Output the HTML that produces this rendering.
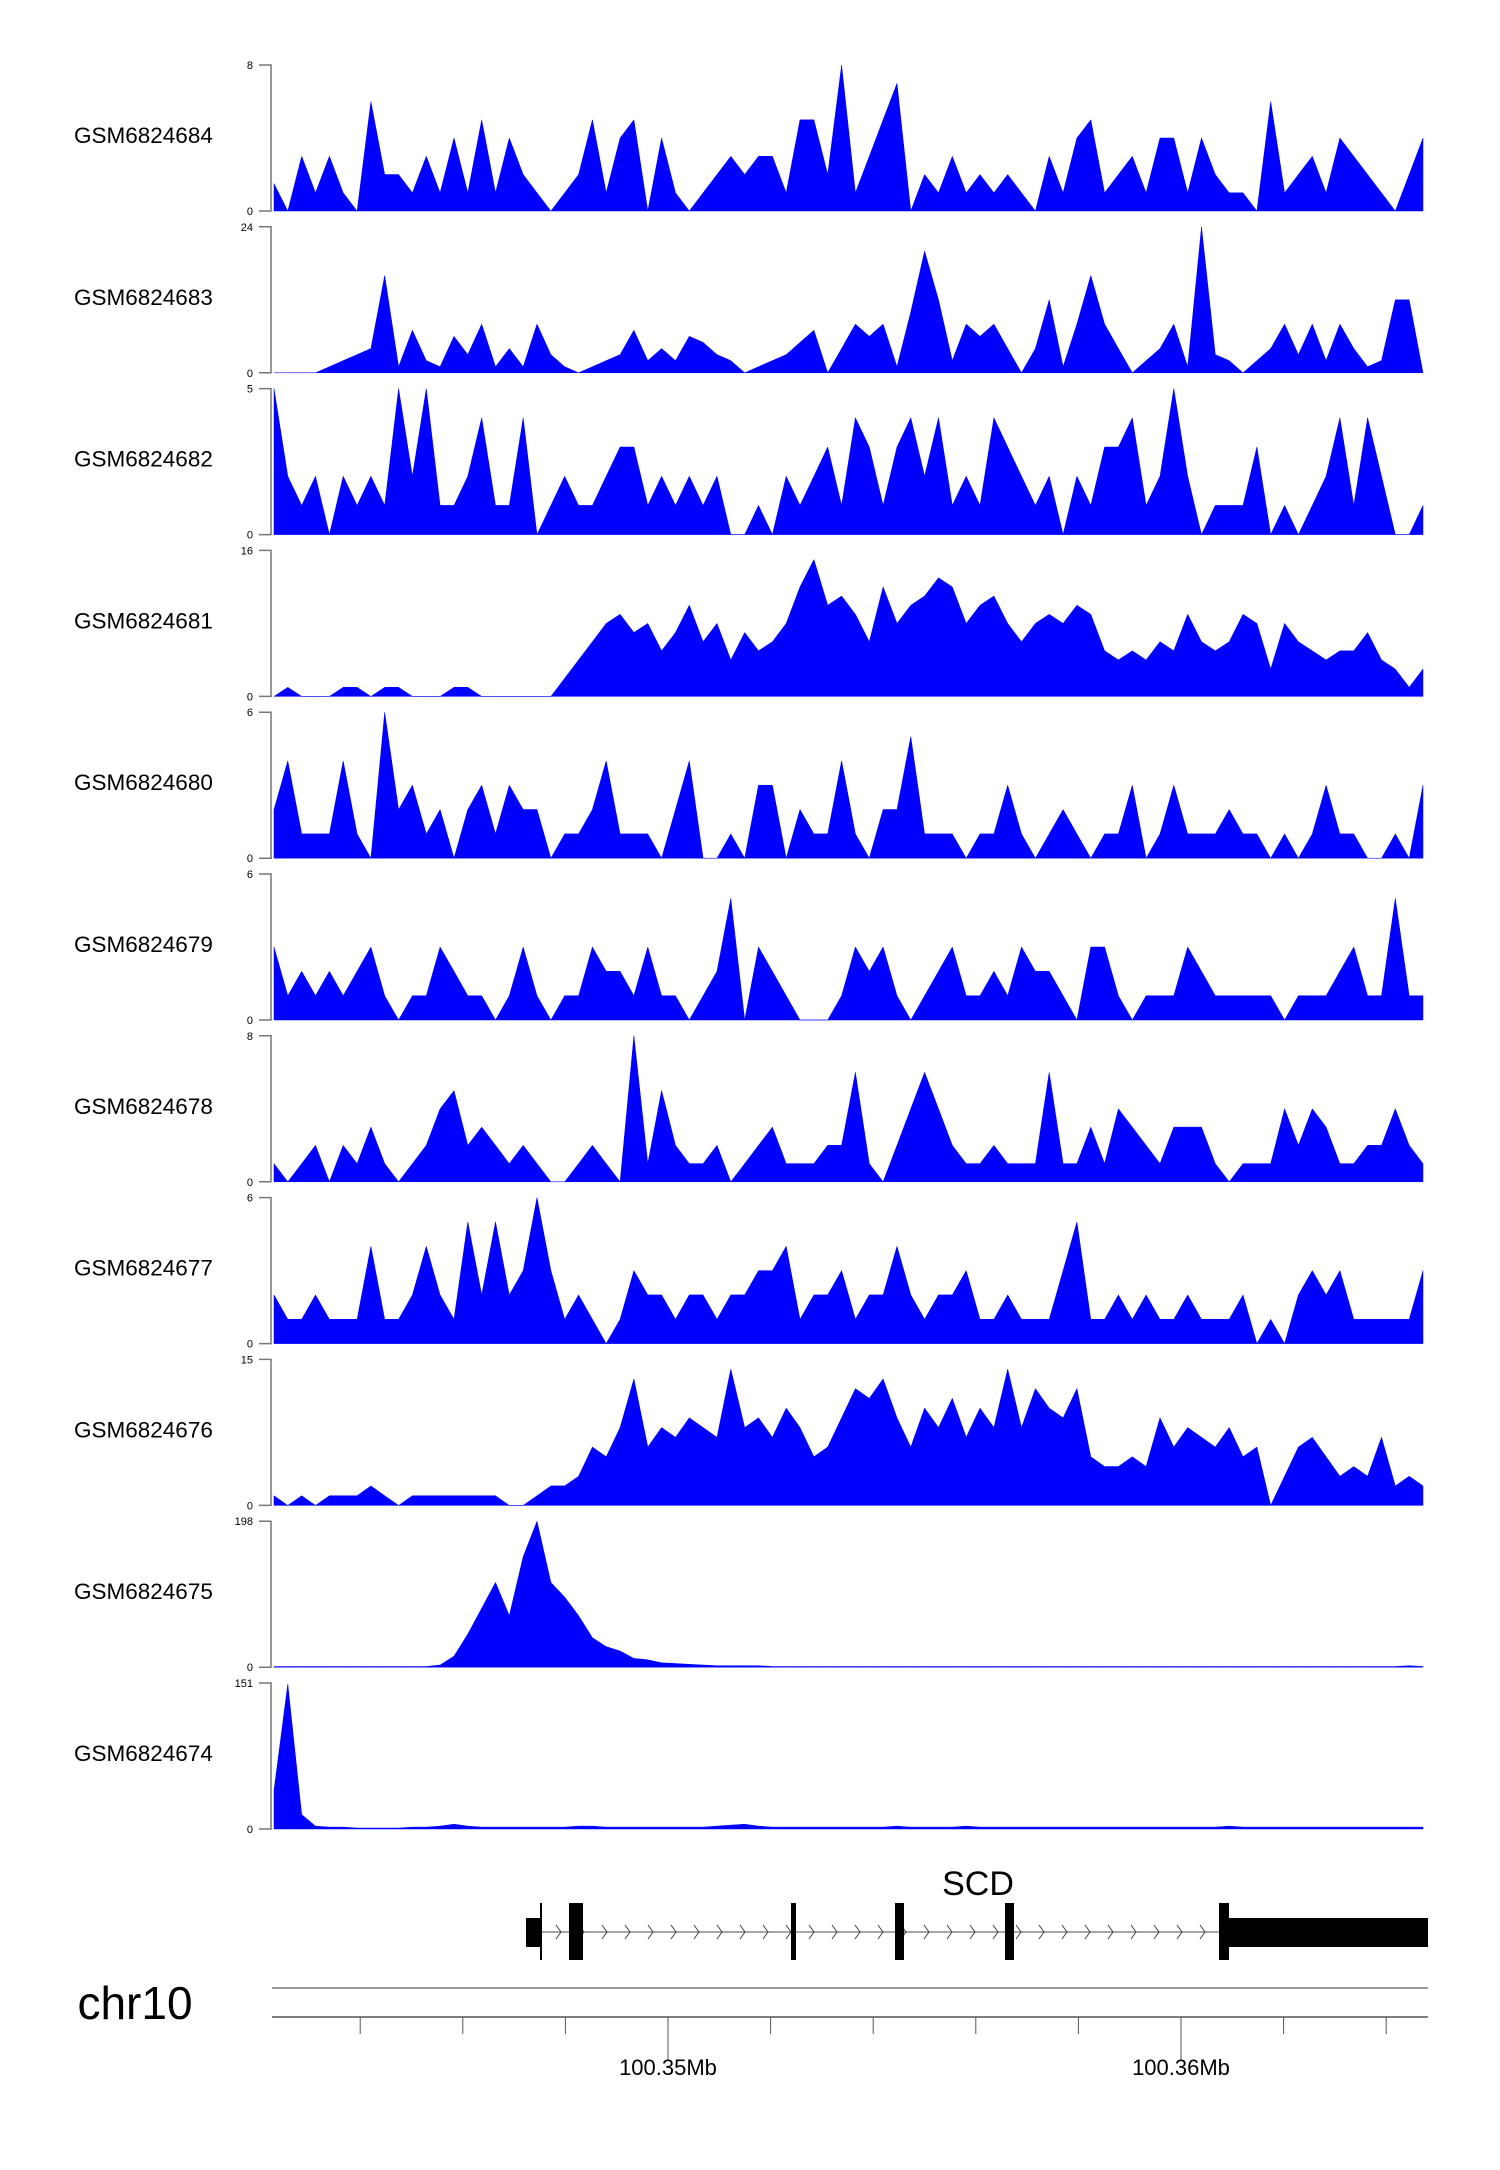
<!DOCTYPE html>
<html><head><meta charset="utf-8">
<style>
html,body{margin:0;padding:0;background:#fff;}
svg{display:block;font-family:"Liberation Sans",Arial,sans-serif;}
</style></head>
<body>
<svg id="chart" width="1500" height="2170" viewBox="0 0 1500 2170" xmlns="http://www.w3.org/2000/svg">
  <g id="tracks"></g>
  <g id="gene">
    <text x="978" y="1895" font-size="34" text-anchor="middle">SCD</text>
    <line x1="541" y1="1932" x2="1228" y2="1932" stroke="#888" stroke-width="1.5"/>
    <g id="chevrons"></g>
    <rect x="526" y="1918" width="14" height="29" fill="#000"/>
    <rect x="540" y="1903" width="2" height="57" fill="#000"/>
    <rect x="569" y="1903" width="14" height="57" fill="#000"/>
    <rect x="791" y="1903" width="5" height="57" fill="#000"/>
    <rect x="895" y="1903" width="9" height="57" fill="#000"/>
    <rect x="1005" y="1903" width="9" height="57" fill="#000"/>
    <rect x="1219" y="1903" width="10" height="57" fill="#000"/>
    <rect x="1228" y="1918" width="200" height="29" fill="#000"/>
  </g>
  <g id="axis">
    <text x="135" y="2019" font-size="46" text-anchor="middle">chr10</text>
    <line x1="272" y1="1988" x2="1428" y2="1988" stroke="#999" stroke-width="2"/>
    <line x1="272" y1="2017" x2="1428" y2="2017" stroke="#555" stroke-width="1.5"/>
    <g id="ticks"></g>
  </g>
</svg>
<script>
var trackNames=["GSM6824684","GSM6824683","GSM6824682","GSM6824681","GSM6824680","GSM6824679","GSM6824678","GSM6824677","GSM6824676","GSM6824675","GSM6824674"];
var trackMax=[8,24,5,16,6,6,8,6,15,198,151];
var s684=[1.5,0,3,1,3,1,0,6,2,2,1,3,1,4,1,5,1,4,2,1,0,1,2,5,1,4,5,0,4,1,0,1,2,3,2,3,3,1,5,5,2,8,1,3,5,7,0,2,1,3,1,2,1,2,1,0,3,1,4,5,1,2,3,1,4,4,1,4,2,1,1,0,6,1,2,3,1,4,3,2,1,0,2,4];
var s683=[0,0,0,0,1,2,3,4,16,1,7,2,1,6,3,8,1,4,1,8,3,1,0,1,2,3,7,2,4,2,6,5,3,2,0,1,2,3,5,7,0,4,8,6,8,1,10,20,12,2,8,6,8,4,0,4,12,1,8,16,8,4,0,2,4,8,1,24,3,2,0,2,4,8,3,8,2,8,4,1,2,12,12,0];
var s682=[5,2,1,2,0,2,1,2,1,5,2,5,1,1,2,4,1,1,4,0,1,2,1,1,2,3,3,1,2,1,2,1,2,0,0,1,0,2,1,2,3,1,4,3,1,3,4,2,4,1,2,1,4,3,2,1,2,0,2,1,3,3,4,1,2,5,2,0,1,1,1,3,0,1,0,1,2,4,1,4,2,0,0,1];
var s681=[0,1,0,0,0,1,1,0,1,1,0,0,0,1,1,0,0,0,0,0,0,2,4,6,8,9,7,8,5,7,10,6,8,4,7,5,6,8,12,15,10,11,9,6,12,8,10,11,13,12,8,10,11,8,6,8,9,8,10,9,5,4,5,4,6,5,9,6,5,6,9,8,3,8,6,5,4,5,5,7,4,3,1,3];
var s680=[2,4,1,1,1,4,1,0,6,2,3,1,2,0,2,3,1,3,2,2,0,1,1,2,4,1,1,1,0,2,4,0,0,1,0,3,3,0,2,1,1,4,1,0,2,2,5,1,1,1,0,1,1,3,1,0,1,2,1,0,1,1,3,0,1,3,1,1,1,2,1,1,0,1,0,1,3,1,1,0,0,1,0,3];
var s679=[3,1,2,1,2,1,2,3,1,0,1,1,3,2,1,1,0,1,3,1,0,1,1,3,2,2,1,3,1,1,0,1,2,5,0,3,2,1,0,0,0,1,3,2,3,1,0,1,2,3,1,1,2,1,3,2,2,1,0,3,3,1,0,1,1,1,3,2,1,1,1,1,1,0,1,1,1,2,3,1,1,5,1,1];
var s678=[1,0,1,2,0,2,1,3,1,0,1,2,4,5,2,3,2,1,2,1,0,0,1,2,1,0,8,1,5,2,1,1,2,0,1,2,3,1,1,1,2,2,6,1,0,2,4,6,4,2,1,1,2,1,1,1,6,1,1,3,1,4,3,2,1,3,3,3,1,0,1,1,1,4,2,4,3,1,1,2,2,4,2,1];
var s677=[2,1,1,2,1,1,1,4,1,1,2,4,2,1,5,2,5,2,3,6,3,1,2,1,0,1,3,2,2,1,2,2,1,2,2,3,3,4,1,2,2,3,1,2,2,4,2,1,2,2,3,1,1,2,1,1,1,3,5,1,1,2,1,2,1,1,2,1,1,1,2,0,1,0,2,3,2,3,1,1,1,1,1,3];
var s676=[1,0,1,0,1,1,1,2,1,0,1,1,1,1,1,1,1,0,0,1,2,2,3,6,5,8,13,6,8,7,9,8,7,14,8,9,7,10,8,5,6,9,12,11,13,9,6,10,8,11,7,10,8,14,8,12,10,9,12,5,4,4,5,4,9,6,8,7,6,8,5,6,0,3,6,7,5,3,4,3,7,2,3,2];
var s675=[1,1,1,1,1,1,1,1,1,1,1,1,3,15,45,80,115,70,150,198,115,95,70,40,28,22,12,10,6,5,4,3,2,2,2,2,1,1,1,1,1,1,1,1,1,1,1,1,1,1,1,1,1,1,1,1,1,1,1,1,1,1,1,1,1,1,1,1,1,1,1,1,1,1,1,1,1,1,1,1,1,1,2,1];
var s674=[40,150,15,3,2,2,1,1,1,1,2,2,3,5,3,2,2,2,2,2,2,2,3,3,2,2,2,2,2,2,2,2,3,4,5,3,2,2,2,2,2,2,2,2,2,3,2,2,2,2,3,2,2,2,2,2,2,2,2,2,2,2,2,2,2,2,2,2,2,3,2,2,2,2,2,2,2,2,2,2,2,2,2,2];
var seriesList=[s684,s683,s682,s681,s680,s679,s678,s677,s676,s675,s674];
var tickKb=[344,346,348,350,352,354,356,358,360,362,364];
var tickLabels={350:"100.35Mb",360:"100.36Mb"};

(function(){
var NS="http://www.w3.org/2000/svg";
var X0=274,X1=1423,TOP0=65,STEP=161.8,TH=146;
function xScale(i,n){return X0+(X1-X0)*i/(n-1);}
function yScale(v,max,k){var b=TOP0+k*STEP+TH;return b-TH*Math.min(v,max)/max;}
function gx(kb){return 668+(kb-350)*51.3;}
var tg=document.getElementById('tracks');
for(var k=0;k<trackNames.length;k++){
  var yTop=TOP0+k*STEP,yBot=yTop+TH;
  var g=document.createElementNS(NS,'g');
  
  
  var lab=document.createElementNS(NS,'text');
  lab.setAttribute('x',74);lab.setAttribute('y',yTop+TH/2+5);lab.setAttribute('font-size','22.5');
  lab.textContent=trackNames[k];
  
  
  g.appendChild(lab);
  var ax=document.createElementNS(NS,'path');
  ax.setAttribute('d','M259 '+yTop+' H271 V'+yBot+' H259');
  ax.setAttribute('fill','none');ax.setAttribute('stroke','#777');ax.setAttribute('stroke-width','1.5');
  
  
  g.appendChild(ax);
  var tlabs=[[trackMax[k],yTop],[0,yBot]];
  for(var j=0;j<2;j++){
    var t=document.createElementNS(NS,'text');
    t.setAttribute('x',253);t.setAttribute('y',tlabs[j][1]+4);t.setAttribute('font-size','11');t.setAttribute('text-anchor','end');
    t.textContent=tlabs[j][0];
    
    
    g.appendChild(t);
  }
  var s=seriesList[k],n=s.length,d='M'+X0+' '+yBot;
  for(var i=0;i<n;i++){d+=' L'+xScale(i,n).toFixed(1)+' '+yScale(s[i],trackMax[k],k).toFixed(1);}
  d+=' L'+X1+' '+yBot+' Z';
  var a=document.createElementNS(NS,'path');
  a.setAttribute('d',d);a.setAttribute('fill','#0000ff');a.setAttribute('stroke','#0000ff');a.setAttribute('stroke-width','0.5');
  
  
  g.appendChild(a);
  tg.appendChild(g);
}
var cg=document.getElementById('chevrons');
for(var cx=556;cx<1220;cx+=23){
  var c=document.createElementNS(NS,'path');
  c.setAttribute('d','M'+cx+' 1925 L'+(cx+5)+' 1932 L'+cx+' 1939');
  c.setAttribute('fill','none');c.setAttribute('stroke','#444');c.setAttribute('stroke-width','1');
  
  
  cg.appendChild(c);
}
var tk=document.getElementById('ticks');
for(var q=0;q<tickKb.length;q++){
  var kb=tickKb[q],x=gx(kb),lbl=tickLabels[kb];
  var l=document.createElementNS(NS,'line');
  l.setAttribute('x1',x);l.setAttribute('x2',x);l.setAttribute('y1',2017);l.setAttribute('y2',lbl?2060:2034);
  l.setAttribute('stroke','#555');l.setAttribute('stroke-width','1');
  
  
  tk.appendChild(l);
  if(lbl){
    var tt=document.createElementNS(NS,'text');
    tt.setAttribute('x',x);tt.setAttribute('y',2075);tt.setAttribute('font-size','22');tt.setAttribute('text-anchor','middle');
    tt.textContent=lbl;
    
    
    tk.appendChild(tt);
  }
}
})();
</script>
</body></html>
